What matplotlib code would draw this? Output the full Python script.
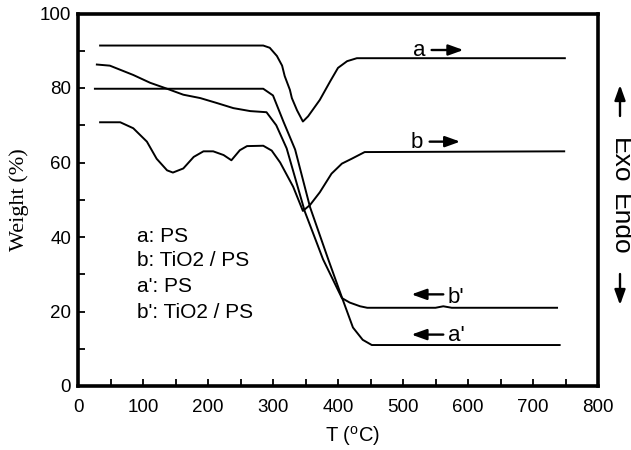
import matplotlib
matplotlib.use('Agg')
import matplotlib.pyplot as plt
from matplotlib.ticker import MultipleLocator

plt.rcParams['font.family'] = 'Liberation Sans'
plt.rcParams['mathtext.fontset'] = 'custom'
plt.rcParams['mathtext.rm'] = 'Liberation Sans'

# DTA curves (a: PS, b: TiO2/PS)
a_T = [34, 285, 295, 306, 314, 318, 326, 329, 337, 346, 354, 372, 388, 400, 414, 429, 749]
a_W = [91.4, 91.4, 90.8, 88.6, 86.0, 83.2, 79.5, 77.3, 74.0, 71.0, 72.4, 76.8, 81.8, 85.4, 87.2, 88.0, 88.0]

b_T = [34, 65, 85, 106, 121, 137, 146, 162, 178, 193, 208, 224, 236, 249, 260, 285,
       298, 311, 331, 346, 357, 372, 390, 406, 421, 441, 748]
b_W = [70.8, 70.8, 69.2, 65.6, 61.0, 57.9, 57.3, 58.4, 61.5, 63.0, 63.0, 62.0, 60.6, 63.3, 64.4, 64.5,
       63.2, 60.0, 53.5, 47.0, 48.6, 52.0, 57.0, 59.7, 61.0, 62.8, 63.0]

# TGA curves (a': PS, b': TiO2/PS)
a2_T = [26, 285, 300, 316, 334, 357, 385, 406, 423, 438, 452, 741]
a2_W = [79.8, 79.8, 78.0, 71.0, 63.5, 48.0, 34.0, 23.8, 15.7, 12.4, 11.0, 11.0]

b2_T = [29, 49, 85, 111, 137, 162, 188, 213, 239, 265, 290, 305, 321, 349, 365, 377,
        406, 418, 434, 445, 550, 562, 575, 737]
b2_W = [86.3, 86.0, 83.5, 81.4, 79.8, 78.2, 77.3, 76.0, 74.6, 73.8, 73.5, 70.0, 63.8, 46.8, 39.5, 34.0,
        23.6, 22.4, 21.4, 21.0, 21.0, 21.4, 21.0, 21.0]

legend_lines = ["a: PS", "b: TiO2 / PS", "a': PS", "b': TiO2 / PS"]
legend_y = [38.7, 32.2, 25.3, 18.3]

fig = plt.figure(figsize=(6.31, 4.5), dpi=100)
ax = fig.add_axes([78 / 631, 64 / 450, 520 / 631, 372.5 / 450])

for T, W in [(a_T, a_W), (b_T, b_W), (a2_T, a2_W), (b2_T, b2_W)]:
    ax.plot(T, W, color='black', lw=1.4)

ax.set_xlim(0, 800)
ax.set_ylim(0, 100)
ax.xaxis.set_major_locator(MultipleLocator(100))
ax.xaxis.set_minor_locator(MultipleLocator(50))
ax.yaxis.set_major_locator(MultipleLocator(20))
ax.yaxis.set_minor_locator(MultipleLocator(10))
ax.tick_params(which='both', direction='in', length=5, width=1.3, labelsize=13.5)
ax.tick_params(axis='x', pad=9)
ax.tick_params(axis='y', pad=5)
for s in ax.spines.values():
    s.set_linewidth(2.6)

ax.set_ylabel('Weight (%)', family='Liberation Serif', fontsize=16)
ax.yaxis.set_label_coords(-0.094, 0.5)
ax.set_xlabel(r'T ($^{\rm o}$C)', fontsize=14.5)
ax.xaxis.set_label_coords(0.527, -0.103)

# curve labels with arrows
arr = dict(arrowstyle='-|>,head_length=0.5,head_width=0.18', color='black', lw=1.7,
           mutation_scale=18, shrinkA=0, shrinkB=0)
ax.text(515, 88.6, 'a', fontsize=16, ha='left', va='baseline')
ax.annotate('', xy=(593, 90.2), xytext=(544, 90.2), arrowprops=arr)
ax.text(511, 63.8, 'b', fontsize=16, ha='left', va='baseline')
ax.annotate('', xy=(588, 65.6), xytext=(541, 65.6), arrowprops=arr)
ax.annotate('', xy=(513, 24.6), xytext=(562, 24.6), arrowprops=arr)
ax.text(569, 22.2, "b'", fontsize=16, ha='left', va='baseline')
ax.annotate('', xy=(513, 13.8), xytext=(562, 13.8), arrowprops=arr)
ax.text(569, 12.0, "a'", fontsize=16, ha='left', va='baseline')

for txt, y in zip(legend_lines, legend_y):
    ax.text(91, y, txt, fontsize=15, ha='left', va='baseline')

# Exo / Endo on the right
fig.text(620 / 631, 1 - 161 / 450, 'Exo', rotation=-90, fontsize=19, ha='center', va='center')
fig.text(620 / 631, 1 - 225 / 450, 'Endo', rotation=-90, fontsize=19, ha='center', va='center')
ax.annotate('', xy=(620 / 631, 1 - 85 / 450), xytext=(620 / 631, 1 - 116 / 450),
            xycoords='figure fraction', textcoords='figure fraction', arrowprops=arr,
            annotation_clip=False)
ax.annotate('', xy=(620 / 631, 1 - 305 / 450), xytext=(620 / 631, 1 - 274 / 450),
            xycoords='figure fraction', textcoords='figure fraction', arrowprops=arr,
            annotation_clip=False)

fig.savefig('out.png', dpi=100)
